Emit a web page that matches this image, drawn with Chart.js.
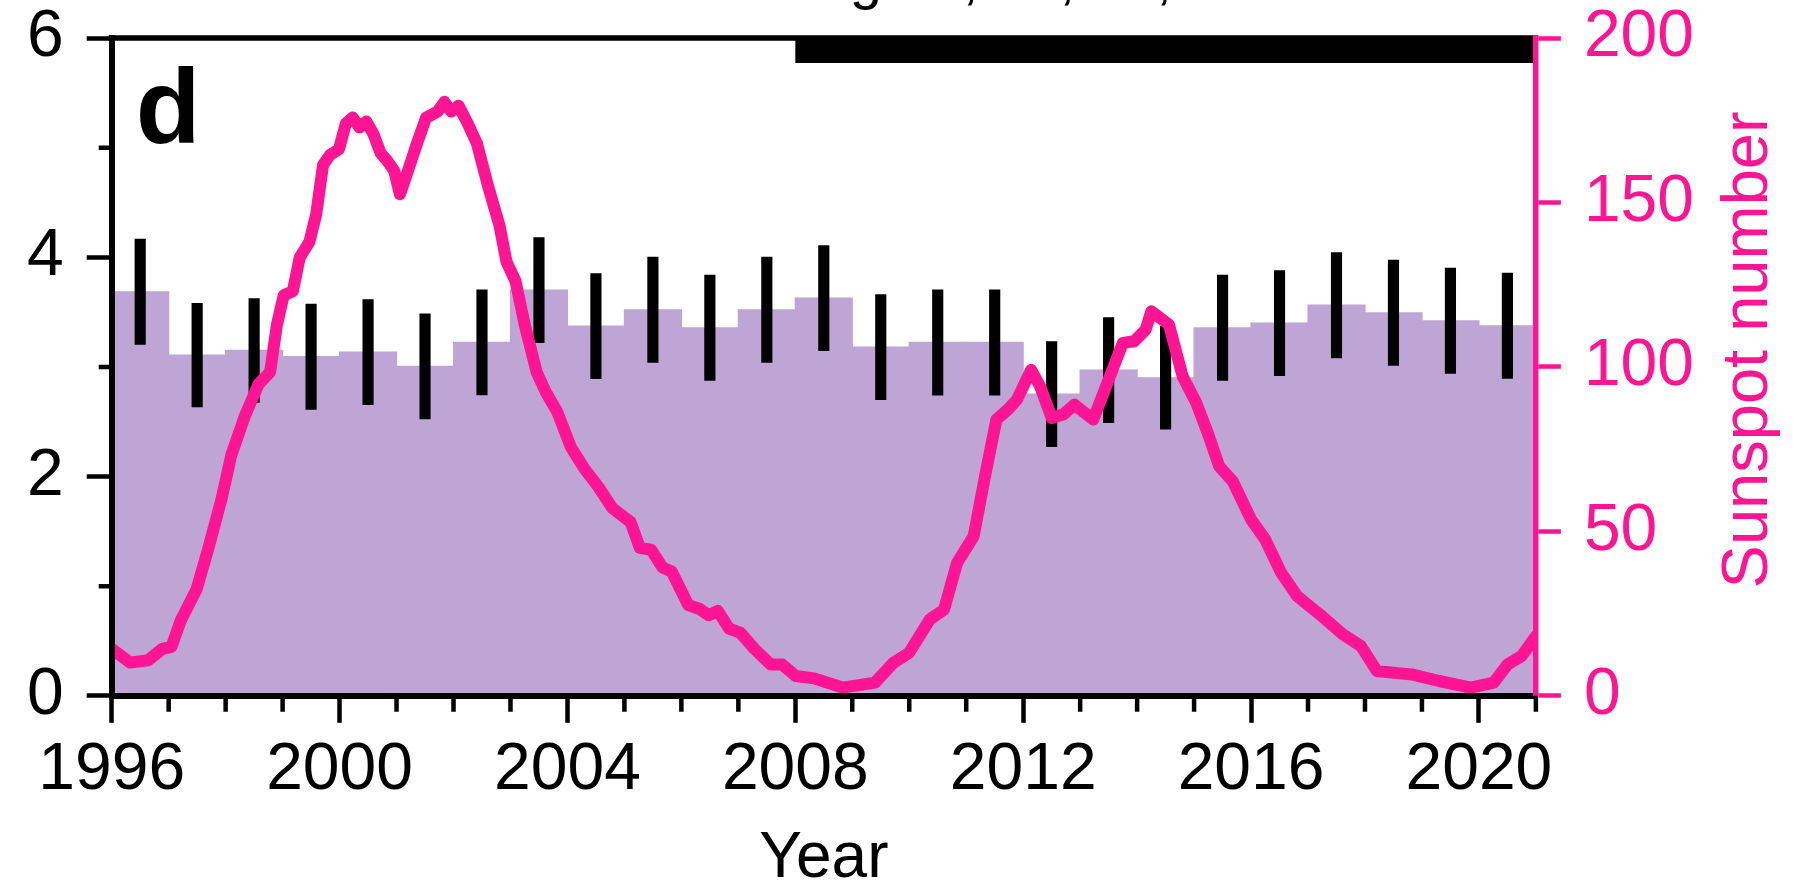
<!DOCTYPE html>
<html>
<head>
<meta charset="utf-8">
<title>Sunspot number and yearly mean</title>
<script src="https://cdn.jsdelivr.net/npm/chart.js@4/dist/chart.umd.min.js"></script>
<style>
  html, body { margin: 0; padding: 0; background: #fff; }
  #wrap { width: 1793px; height: 891px; position: relative; }
</style>
</head>
<body>
<div id="wrap"><canvas id="panel-d"></canvas></div>
<script>
// --- yearly means (left axis) ---
const years = [1996, 1997, 1998, 1999, 2000, 2001, 2002, 2003, 2004, 2005, 2006, 2007, 2008,
               2009, 2010, 2011, 2012, 2013, 2014, 2015, 2016, 2017, 2018, 2019, 2020];
const yearMeans = [3.685, 3.107, 3.150, 3.093, 3.135, 3.004, 3.223, 3.700, 3.372, 3.521, 3.357, 3.521, 3.627,
                   3.180, 3.223, 3.223, 2.752, 2.971, 2.901, 3.357, 3.399, 3.563, 3.494, 3.421, 3.375];
const yearErrors = [0.48, 0.473, 0.474, 0.48, 0.48, 0.479, 0.479, 0.48, 0.48, 0.48, 0.48, 0.48, 0.48,
                    0.48, 0.48, 0.48, 0.48, 0.48, 0.47, 0.48, 0.48, 0.48, 0.48, 0.48, 0.48];

// --- smoothed sunspot number (right axis) ---
const ssnYear = [1996.0, 1996.32, 1996.64, 1996.89, 1997.05, 1997.21, 1997.49, 1997.69, 1997.93, 1998.10,
                 1998.34, 1998.58, 1998.78, 1998.90, 1999.02, 1999.18, 1999.30, 1999.47, 1999.59, 1999.71,
                 1999.83, 1999.99, 2000.11, 2000.23, 2000.35, 2000.47, 2000.59, 2000.72, 2000.84, 2000.96,
                 2001.06, 2001.20, 2001.36, 2001.52, 2001.72, 2001.84, 2001.96, 2002.09, 2002.25, 2002.41,
                 2002.61, 2002.81, 2002.93, 2003.09, 2003.25, 2003.46, 2003.62, 2003.82, 2004.06, 2004.30,
                 2004.54, 2004.79, 2005.11, 2005.27, 2005.47, 2005.67, 2005.83, 2006.12, 2006.32, 2006.48,
                 2006.64, 2006.84, 2007.04, 2007.28, 2007.57, 2007.77, 2008.01, 2008.33, 2008.83, 2009.40,
                 2009.72, 2010.00, 2010.36, 2010.61, 2010.84, 2011.13, 2011.33, 2011.53, 2011.73, 2011.89,
                 2012.14, 2012.30, 2012.50, 2012.70, 2012.90, 2013.23, 2013.50, 2013.75, 2013.95, 2014.15,
                 2014.25, 2014.56, 2014.80, 2015.04, 2015.24, 2015.44, 2015.68, 2016.00, 2016.25, 2016.53,
                 2016.81, 2017.21, 2017.61, 2017.93, 2018.21, 2018.82, 2019.30, 2019.86, 2020.26, 2020.50,
                 2020.75, 2021.00];
const ssnValue = [14.3, 10.1, 10.8, 14.3, 14.9, 22.8, 32.4, 44.4, 60.0, 73.2,
                  85.2, 94.8, 98.4, 112.8, 121.8, 123.0, 133.2, 138.0, 146.4, 161.4,
                  164.4, 166.2, 174.0, 175.8, 172.8, 174.6, 171.0, 165.0, 162.6, 159.6,
                  152.5, 159.6, 168.0, 175.8, 177.6, 180.6, 177.6, 179.4, 174.0, 168.0,
                  154.8, 142.8, 132.0, 126.0, 112.8, 98.4, 92.4, 86.4, 75.6, 69.0,
                  63.6, 57.0, 52.8, 45.0, 44.4, 39.0, 37.8, 27.6, 26.4, 24.5,
                  25.8, 20.4, 19.1, 14.3, 9.5, 9.5, 6.0, 5.3, 2.5, 4.0,
                  10.0, 13.1, 23.2, 26.2, 40.4, 48.5, 66.7, 84.0, 87.0, 90.0,
                  99.1, 94.0, 84.5, 85.5, 88.5, 84.0, 96.1, 107.3, 107.8, 111.3,
                  116.9, 112.8, 97.1, 89.0, 79.9, 69.8, 65.2, 53.6, 47.5, 37.4,
                  30.3, 24.7, 18.7, 15.1, 7.5, 6.5, 4.5, 2.5, 4.0, 9.5,
                  12.1, 18.1];

// black bar along the top frame (start, end year)
const markedPeriod = [2008, 2021];

// --- axis ticks ---
const xTickLabels = [1996, 2000, 2004, 2008, 2012, 2016, 2020];
const leftTickLabels = [0, 2, 4, 6];
const rightTickLabels = [0, 50, 100, 150, 200];

const PINK = '#ff1493';
const LILAC = '#bea5d6';
const FONT = "'Liberation Sans', Arial, sans-serif";

Chart.defaults.font.family = FONT;

// minor (unlabelled) ticks are shorter than the labelled ones
const minorTicks = {
    id: 'minorTicks',
    afterDraw(chart) {
        const { ctx, chartArea, scales } = chart;
        ctx.save();
        ctx.strokeStyle = '#000';
        ctx.lineWidth = 4.5;
        ctx.beginPath();
        scales.x.ticks.forEach(t => {
            if (xTickLabels.includes(t.value)) return;
            const px = scales.x.getPixelForValue(t.value);
            ctx.moveTo(px, chartArea.bottom);
            ctx.lineTo(px, chartArea.bottom + 16);
        });
        scales.y.ticks.forEach(t => {
            if (leftTickLabels.includes(t.value)) return;
            const py = scales.y.getPixelForValue(t.value);
            ctx.moveTo(chartArea.left, py);
            ctx.lineTo(chartArea.left - 13, py);
        });
        ctx.stroke();
        ctx.restore();
    }
};

// top frame line, panel letter, clipped heading and the right-hand axis title
const panelDecor = {
    id: 'panelDecor',
    afterDatasetsDraw(chart) {
        const { ctx, chartArea } = chart;
        ctx.save();
        ctx.strokeStyle = '#000';
        ctx.lineWidth = 5.5;
        ctx.beginPath();
        ctx.moveTo(chartArea.left - 3, chartArea.top);
        ctx.lineTo(chartArea.right, chartArea.top);
        ctx.stroke();
        ctx.restore();
    },
    afterDraw(chart) {
        const { ctx, chartArea, scales } = chart;
        ctx.save();
        ctx.fillStyle = '#000';
        ctx.textAlign = 'left';
        ctx.textBaseline = 'alphabetic';
        ctx.font = `bold 106px ${FONT}`;
        ctx.fillText('d', chartArea.left + 24, chartArea.top + 105);

        ctx.font = `58px ${FONT}`;
        ctx.fillText('Time lag 10, 20, 30, 40', chartArea.left + 550, -2);

        ctx.fillStyle = PINK;
        ctx.font = `65px ${FONT}`;
        ctx.textAlign = 'center';
        ctx.translate(scales.y2.right + 50, (chartArea.top + chartArea.bottom) / 2 - 17);
        ctx.rotate(-Math.PI / 2);
        ctx.fillText('Sunspot number', 0, 0);
        ctx.restore();
    }
};

const ctx = document.getElementById('panel-d');

new Chart(ctx, {
    type: 'bar',
    data: {
        datasets: [
            {
                type: 'line',
                label: 'Sunspot number',
                data: ssnYear.map((yr, i) => ({ x: yr, y: ssnValue[i] })),
                yAxisID: 'y2',
                borderColor: PINK,
                borderWidth: 12,
                borderJoinStyle: 'round',
                borderCapStyle: 'round',
                pointRadius: 0,
                tension: 0,
                fill: false,
                order: 0,
            },
            {
                type: 'line',
                label: 'Period',
                data: markedPeriod.map(yr => ({ x: yr, y: 5.89 })),
                yAxisID: 'y',
                borderColor: '#000',
                borderWidth: 26,
                borderCapStyle: 'butt',
                pointRadius: 0,
                clip: false,
                order: 0,
            },
            {
                label: 'Error',
                data: years.map((yr, i) => ({ x: yr + 0.5, y: [yearMeans[i] - yearErrors[i], yearMeans[i] + yearErrors[i]] })),
                yAxisID: 'y',
                backgroundColor: '#000',
                borderWidth: 0,
                barThickness: 10.5,
                grouped: false,
                order: 1,
            },
            {
                label: 'Yearly mean',
                data: years.map((yr, i) => ({ x: yr + 0.5, y: yearMeans[i] })),
                yAxisID: 'y',
                backgroundColor: LILAC,
                borderWidth: 0,
                barPercentage: 1,
                categoryPercentage: 1,
                inflateAmount: 0.6,
                grouped: false,
                order: 2,
            }
        ]
    },
    options: {
        responsive: true,
        maintainAspectRatio: false,
        animation: false,
        devicePixelRatio: 1,
        // tick padding counts twice in the axis width, hence the small outer padding
        layout: { padding: { left: 4, right: 76, top: 38, bottom: 0 } },
        plugins: {
            legend: { display: false },
            tooltip: { enabled: false },
        },
        scales: {
            x: {
                type: 'linear',
                min: 1996, max: 2021,
                offset: false,
                ticks: {
                    stepSize: 1,
                    maxTicksLimit: 40,
                    autoSkip: false,
                    maxRotation: 0,
                    color: '#000',
                    padding: 8,
                    font: { size: 66, lineHeight: 1.2 },
                    callback: v => xTickLabels.includes(v) ? String(v) : ''
                },
                grid: {
                    offset: false,
                    drawOnChartArea: false,
                    drawTicks: true,
                    tickLength: 27,
                    tickWidth: 4.5,
                    tickColor: c => (c.tick && xTickLabels.includes(c.tick.value)) ? '#000' : 'rgba(0,0,0,0)'
                },
                border: { display: true, color: '#000', width: 6, z: 1 },
                title: {
                    display: true, text: 'Year', color: '#000',
                    font: { size: 64, lineHeight: 1 },
                    padding: { top: 9, bottom: 0 }
                }
            },
            y: {
                type: 'linear',
                position: 'left',
                min: 0, max: 6,
                ticks: {
                    stepSize: 1,
                    color: '#000',
                    padding: 23,
                    font: { size: 66, lineHeight: 0.4 },
                    callback: v => leftTickLabels.includes(v) ? String(v) : ''
                },
                grid: {
                    drawOnChartArea: false,
                    tickLength: 25,
                    tickWidth: 4.5,
                    tickColor: c => (c.tick && leftTickLabels.includes(c.tick.value)) ? '#000' : 'rgba(0,0,0,0)'
                },
                border: { display: true, color: '#000', width: 6, z: 1 }
            },
            y2: {
                type: 'linear',
                position: 'right',
                min: 0, max: 200,
                ticks: {
                    stepSize: 50,
                    color: PINK,
                    padding: 23,
                    font: { size: 66, lineHeight: 0.4 },
                    callback: v => rightTickLabels.includes(v) ? String(v) : ''
                },
                grid: {
                    drawOnChartArea: false,
                    tickLength: 25,
                    tickWidth: 4.5,
                    tickColor: PINK
                },
                border: { display: true, color: PINK, width: 5.5, z: 1 }
            }
        }
    },
    plugins: [minorTicks, panelDecor]
});
</script>
</body>
</html>
